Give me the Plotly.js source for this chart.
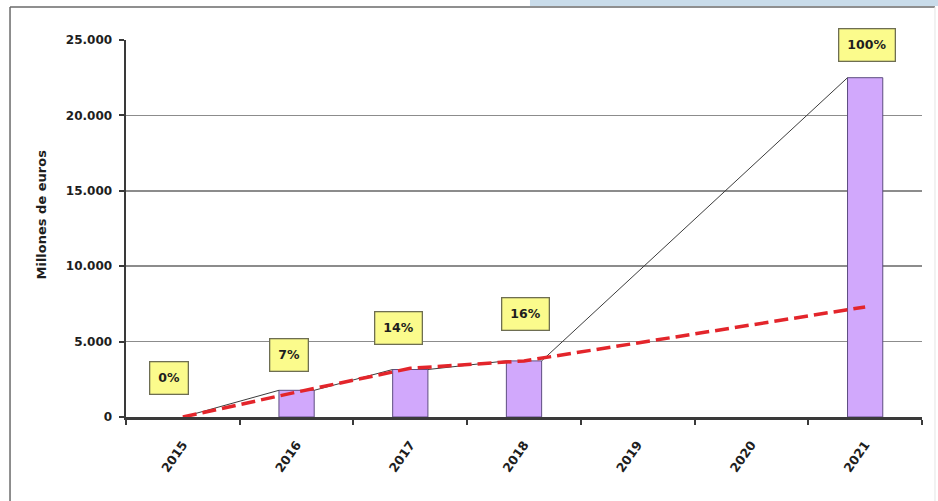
<!DOCTYPE html>
<html><head><meta charset="utf-8">
<script src="https://cdn.plot.ly/plotly-3.0.1.min.js"></script>
<style>html,body{margin:0;padding:0;background:#fff}#chart{width:938px;height:501px}</style>
</head><body><div id="chart"></div>
<script>
// ---- data ----
const years = ['2015','2016','2017','2018','2019','2020','2021'];
const barValues = [0, 1770, 3150, 3720, null, null, 22500];
const trendValues = [0, 1650, 3230, 3720, null, null, 7300];
const pctLabels = ['0%','7%','14%','16%',null,null,'100%'];
const yTicks = [0, 5000, 10000, 15000, 20000, 25000];

// ---- layout helpers ----
const BAR_W = 0.31;
const idx = years.map((_, i) => i);
const boundaries = [-0.5].concat(idx.map(i => i + 0.5));

// Excel-style series lines joining bar tops (right edge -> next left edge)
const sx = [], sy = [];
let prev = null;
idx.forEach(i => {
  const v = barValues[i];
  if (v === null) return;
  if (prev !== null) {
    sx.push(prev + (barValues[prev] ? BAR_W / 2 : 0), i - BAR_W / 2, null);
    sy.push(barValues[prev], v, null);
  }
  prev = i;
});

// label box anchor positions (layout placement, category offset / value)
const labelPlace = [[-0.12, 2570], [0.93, 4100], [1.90, 5890], [3.01, 6810], null, null, [6.02, 24680]];

const FONT = 'DejaVu Sans';
const annotations = [];
pctLabels.forEach((t, i) => {
  if (!t) return;
  annotations.push({
    x: labelPlace[i][0], y: labelPlace[i][1], xref: 'x', yref: 'y',
    text: '<b>' + t + '</b>', showarrow: false,
    font: {family: FONT, size: 12.5, color: '#1e1e1e'},
    bgcolor: '#fbfb8c', bordercolor: '#6e6e52', borderwidth: 1.3, borderpad: 8
  });
});
annotations.push({
  x: -0.118, y: 0.536, xref: 'paper', yref: 'paper', textangle: -90,
  text: '<b>Millones de euros</b>', showarrow: false,
  font: {family: FONT, size: 13, color: '#1e1e1e'}
});

const traces = [
  {type: 'bar', x: idx, y: barValues, width: BAR_W,
   marker: {color: '#d1a8fc', line: {color: '#5d4d80', width: barValues.map(v => v ? 1 : 0)}},
   hoverinfo: 'skip'},
  {type: 'scatter', mode: 'lines', x: sx, y: sy, connectgaps: false,
   line: {color: '#3c3c3c', width: 1}, hoverinfo: 'skip'},
  {type: 'scatter', mode: 'lines', x: idx, y: trendValues, connectgaps: true,
   line: {color: '#e3252b', width: 3.5, dash: '14px,6px'}, hoverinfo: 'skip'}
];

const layout = {
  width: 938, height: 501, autosize: false,
  margin: {l: 126, r: 16, t: 40, b: 84},
  paper_bgcolor: '#fff', plot_bgcolor: '#fff',
  showlegend: false, separators: ',.',
  xaxis: {
    range: [-0.5, 6.5], tickmode: 'array', tickvals: idx, ticktext: years,
    tickangle: -55, ticks: '', ticklabelstandoff: 13,
    showline: true, linecolor: '#3a3a3a', linewidth: 2.5,
    showgrid: false, zeroline: false,
    tickfont: {family: FONT, size: 12.5, color: '#1e1e1e', weight: 'bold'},
    minor: {tickmode: 'array', tickvals: boundaries, ticks: 'outside', ticklen: 5,
            tickwidth: 2, tickcolor: '#3a3a3a', showgrid: false}
  },
  yaxis: {
    range: [0, 25000], tickmode: 'array', tickvals: yTicks, tickformat: ',d',
    ticks: 'outside', ticklen: 5, tickwidth: 2, tickcolor: '#3a3a3a',
    ticklabelstandoff: 4,
    showline: true, linecolor: '#3a3a3a', linewidth: 2.5,
    gridcolor: '#8c8c8c', gridwidth: 1.5, zeroline: false,
    tickfont: {family: FONT, size: 12, color: '#1e1e1e', weight: 'bold'}
  },
  annotations: annotations,
  shapes: [
    {type: 'rect', xref: 'paper', yref: 'paper', x0: 0.5075, x1: 1.03, y0: 1.0902, y1: 1.12,
     fillcolor: '#c9dcea', line: {width: 0}, layer: 'below'},
    {type: 'line', xref: 'paper', yref: 'paper', x0: -0.1457, x1: 1.0163, y0: 1.0875, y1: 1.0875,
     line: {color: '#6a6a6a', width: 1.5}},
    {type: 'line', xref: 'paper', yref: 'paper', x0: -0.1457, x1: -0.1457, y0: -0.25, y1: 1.0875,
     line: {color: '#6a6a6a', width: 1.5}},
    {type: 'line', xref: 'paper', yref: 'paper', x0: 1.0163, x1: 1.0163, y0: -0.25, y1: 1.0875,
     line: {color: '#e4e4e4', width: 1}}
  ]
};

Plotly.newPlot('chart', traces, layout, {displayModeBar: false, staticPlot: true});
</script>
</body></html>
